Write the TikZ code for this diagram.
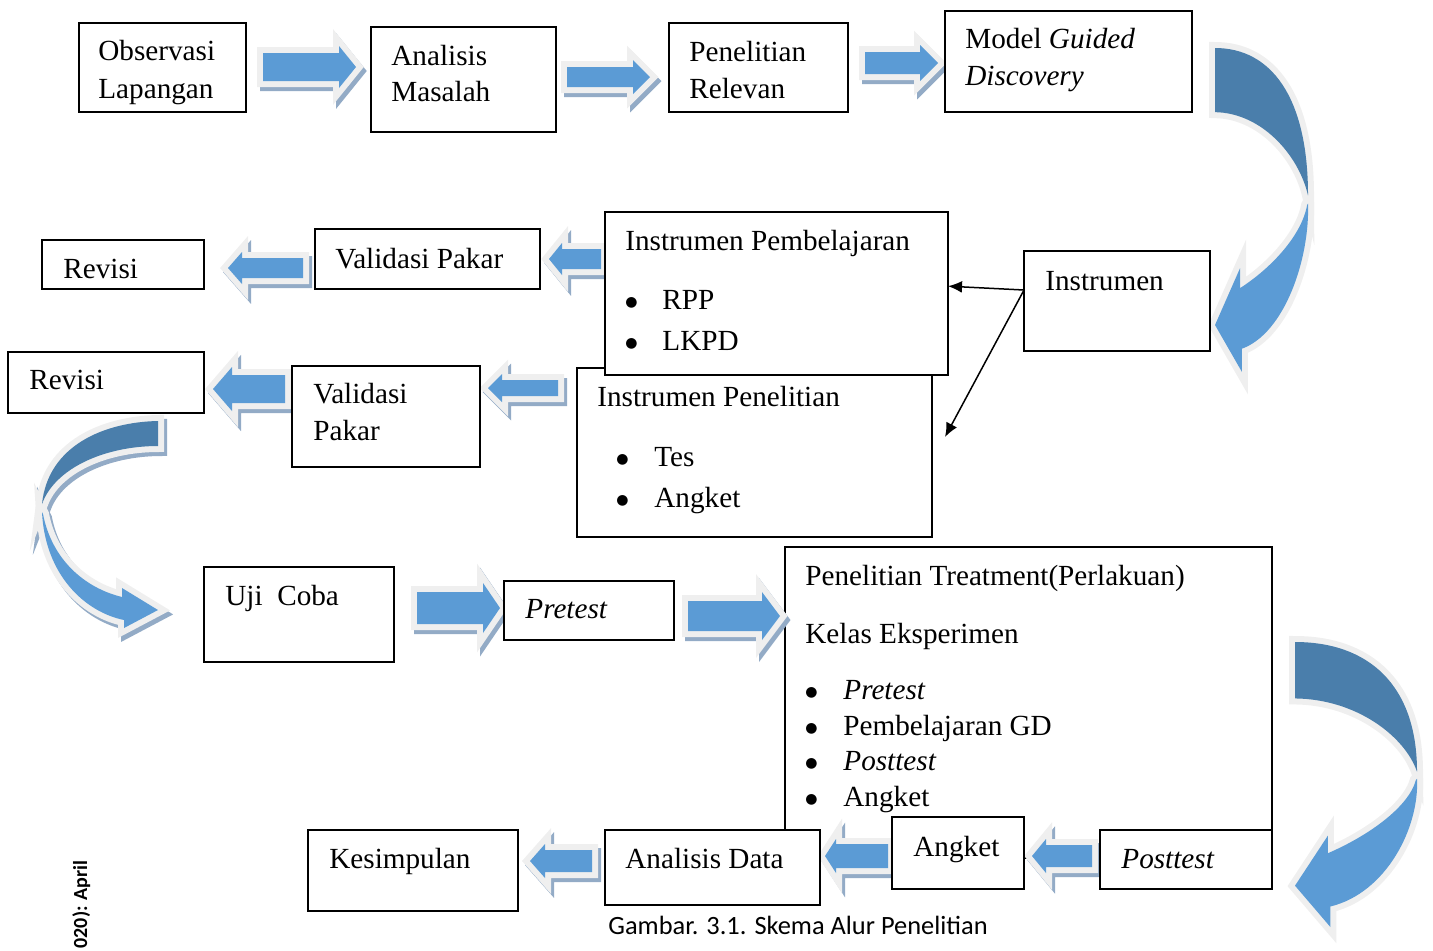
\documentclass[tikz,border=0pt]{standalone}
\usepackage{fontspec}
\setmainfont{Liberation Serif}
\newfontfamily\capfont{Carlito}
\newfontfamily\bulfont{DejaVu Sans}
\usetikzlibrary{fit,calc,arrows.meta}
\definecolor{arrblue}{HTML}{5B9BD5}
\definecolor{arrdark}{HTML}{4A7EAB}
\definecolor{arrgrey}{HTML}{EFEFEF}
\definecolor{arrshadow}{HTML}{93ABC6}
\tikzset{
  box/.style={draw, line width=1pt, fill=white, inner sep=0pt, outer sep=0pt},
  txt/.style={anchor=base west, inner sep=0pt, font=\fontsize{14.6pt}{18.5pt}\selectfont},
  shade/.style={fill=arrshadow, draw=arrshadow, line width=6pt, line join=miter, shift={(3,4)}},
  rim/.style={fill=arrgrey, draw=arrgrey, line width=6pt, line join=miter},
  barrow/.style={fill=arrblue},
  darrow/.style={fill=arrdark},
  conn/.style={line width=0.75pt, -{Latex[length=7pt,width=6pt]}}
}
\newcommand{\bul}{\raisebox{1.2pt}{\bulfont\fontsize{7pt}{8pt}\selectfont ●}}
% tail x, head-base x, tip x, centre y, body half height, head half height
\newcommand{\bapath}[6]{(#1,#4-#5) -- (#2,#4-#5) -- (#2,#4-#6) -- (#3,#4) -- (#2,#4+#6) -- (#2,#4+#5) -- (#1,#4+#5) -- cycle}
\newcommand{\blockarrow}[6]{%
  \path[shade] \bapath{#1}{#2}{#3}{#4}{#5}{#6};
  \path[rim] \bapath{#1}{#2}{#3}{#4}{#5}{#6};
  \path[barrow] \bapath{#1}{#2}{#3}{#4}{#5}{#6};
}
\newcommand{\darkpart}{(0,0) .. controls (0.6,0) and (1,0.15) .. (1,0.455) .. controls (0.9,0.33) and (0.5,0.2) .. (0,0.198) -- cycle}
\newcommand{\lightpart}{(1,0.48) .. controls (1.02,0.65) and (0.75,0.88) .. (0.29,0.928) -- (0.29,1) -- (0,0.855) -- (0.27,0.679) -- (0.27,0.741) .. controls (0.6,0.68) and (0.93,0.58) .. (0.99,0.485) -- cycle}
\newcommand{\curvedarrow}[4]{% x0, y0, width, height
  \begin{scope}[shift={(#1,#2)}, xscale=#3, yscale=#4]
    \path[shade] \darkpart;
    \path[shade] \lightpart;
    \path[rim] \darkpart;
    \path[rim] \lightpart;
    \path[darrow] \darkpart;
    \path[barrow] \lightpart;
  \end{scope}
}
\newcommand{\ctop}{(158,421) .. controls (105,422) and (48,445) .. (42,504) .. controls (55,468) and (105,446) .. (158,446) -- cycle}
\newcommand{\cbot}{(42,512) .. controls (45,575) and (85,612) .. (124,620) -- (124,628) -- (158,610) -- (122,588) -- (122,597) .. controls (85,588) and (52,560) .. (43,514) -- cycle}
\begin{document}
\begin{tikzpicture}[x=0.5pt, y=-0.5pt]
\useasboundingbox (0,0) rectangle (1433,950);

% big treatment box (behind)
\node[box, fit={(785,547) (1272,858)}] (b14) {};

% straight block arrows
\blockarrow{263}{339}{356}{67}{14}{21}
\blockarrow{567}{633}{650}{77}{10}{17}
\blockarrow{865}{920}{938}{63}{11}{18}
\blockarrow{303}{242}{228}{268}{10}{16}
\blockarrow{601}{562}{549}{259}{10}{16}
\blockarrow{285}{232}{213}{389}{14}{22}
\blockarrow{558}{502}{488}{388}{8}{14}
\blockarrow{417}{483}{500}{608}{16}{25}
\blockarrow{688}{762}{780}{616}{15}{24}
\blockarrow{1092}{1046}{1032}{856}{11}{17}
\blockarrow{888}{836}{825}{856}{12}{17}
\blockarrow{592}{545}{530}{861}{11}{17}

% curved arrows
\curvedarrow{1215}{48}{93}{324}
\curvedarrow{1295}{642}{122}{285}
\path[shade] \ctop;
\path[shade] \cbot;
\path[rim] \ctop;
\path[rim] \cbot;
\path[darrow] \ctop;
\path[barrow] \cbot;

% boxes
\node[box, fit={(79,23) (246,112)}] (b1) {};
\node[box, fit={(371,27) (556,132)}] (b2) {};
\node[box, fit={(669,23) (848,112)}] (b3) {};
\node[box, fit={(945,11) (1192,112)}] (b4) {};
\node[box, fit={(1024,251) (1210,351)}] (b5) {};
\node[box, fit={(577,368) (932,537)}] (b9) {};
\node[box, fit={(605,212) (948,375)}] (b6) {};
\node[box, fit={(315,229) (540,289)}] (b7) {};
\node[box, fit={(42,240) (204,289)}] (b8) {};
\node[box, fit={(292,366) (480,467)}] (b10) {};
\node[box, fit={(8,352) (204,413)}] (b11) {};
\node[box, fit={(204,567) (394,662)}] (b12) {};
\node[box, fit={(504,581) (674,640)}] (b13) {};
\node[box, fit={(1100,830) (1272,889)}] (b15) {};
\node[box, fit={(892,817) (1024,889)}] (b16) {};
\node[box, fit={(605,830) (820,905)}] (b17) {};
\node[box, fit={(308,830) (518,911)}] (b18) {};

% texts
\node[txt] (t1a) at (98,60) {Observasi};
\node[txt] (t1b) at (98,98) {Lapangan};
\node[txt] (t2a) at (391,65) {Analisis};
\node[txt] (t2b) at (391,101) {Masalah};
\node[txt] (t3a) at (689,61) {Penelitian};
\node[txt] (t3b) at (689,98) {Relevan};
\node[txt] (t4a) at (965,48) {Model \textit{Guided}};
\node[txt] (t4b) at (965,85) {\textit{Discovery}};
\node[txt] (t5) at (1045,290) {Instrumen};
\node[txt] (t6) at (625,250) {Instrumen Pembelajaran};
\node[txt] (t6b1) at (625,309) {\bul};
\node[txt] (t6a) at (662,309) {RPP};
\node[txt] (t6b2) at (625,350) {\bul};
\node[txt] (t6c) at (662,350) {LKPD};
\node[txt] (t7) at (335,268) {Validasi Pakar};
\node[txt] (t8) at (63,278) {Revisi};
\node[txt] (t9) at (597,406) {Instrumen Penelitian};
\node[txt] (t9b1) at (616,466) {\bul};
\node[txt] (t9a) at (654,466) {Tes};
\node[txt] (t9b2) at (616,507) {\bul};
\node[txt] (t9c) at (654,507) {Angket};
\node[txt] (t10a) at (313,403) {Validasi};
\node[txt] (t10b) at (313,440) {Pakar};
\node[txt] (t11) at (29,389) {Revisi};
\node[txt] (t12) at (225,605) {Uji\ \ Coba};
\node[txt] (t13) at (525,618) {\textit{Pretest}};
\node[txt] (t14) at (805,585) {Penelitian Treatment(Perlakuan)};
\node[txt] (t14a) at (805,643) {Kelas Eksperimen};
\node[txt] (t14b1) at (805,699) {\bul};
\node[txt] (t14c) at (843,699) {\textit{Pretest}};
\node[txt] (t14b2) at (805,735) {\bul};
\node[txt] (t14d) at (843,735) {Pembelajaran GD};
\node[txt] (t14b3) at (805,770) {\bul};
\node[txt] (t14e) at (843,770) {\textit{Posttest}};
\node[txt] (t14b4) at (805,806) {\bul};
\node[txt] (t14f) at (843,806) {Angket};
\node[txt] (t15) at (1121,868) {\textit{Posttest}};
\node[txt] (t16) at (913,856) {Angket};
\node[txt] (t17) at (625,868) {Analisis Data};
\node[txt] (t18) at (329,868) {Kesimpulan};
\node[anchor=base west, inner sep=0pt, font=\capfont\fontsize{13.2pt}{15pt}\selectfont] (cap) at (608,934) {Gambar. 3.1. Skema Alur Penelitian};
\node[anchor=base east, inner sep=0pt, rotate=90, font=\capfont\bfseries\fontsize{10pt}{12pt}\selectfont] (side) at (87,860) {020): April};

% connectors
\coordinate (src) at ($(b5.north west)!0.39!(b5.south west)$);
\coordinate (free) at (945,437);
\draw[conn] (src) -- ($(b6.north east)!0.455!(b6.south east)$);
\draw[conn] (src) -- (free);
\end{tikzpicture}
\end{document}
